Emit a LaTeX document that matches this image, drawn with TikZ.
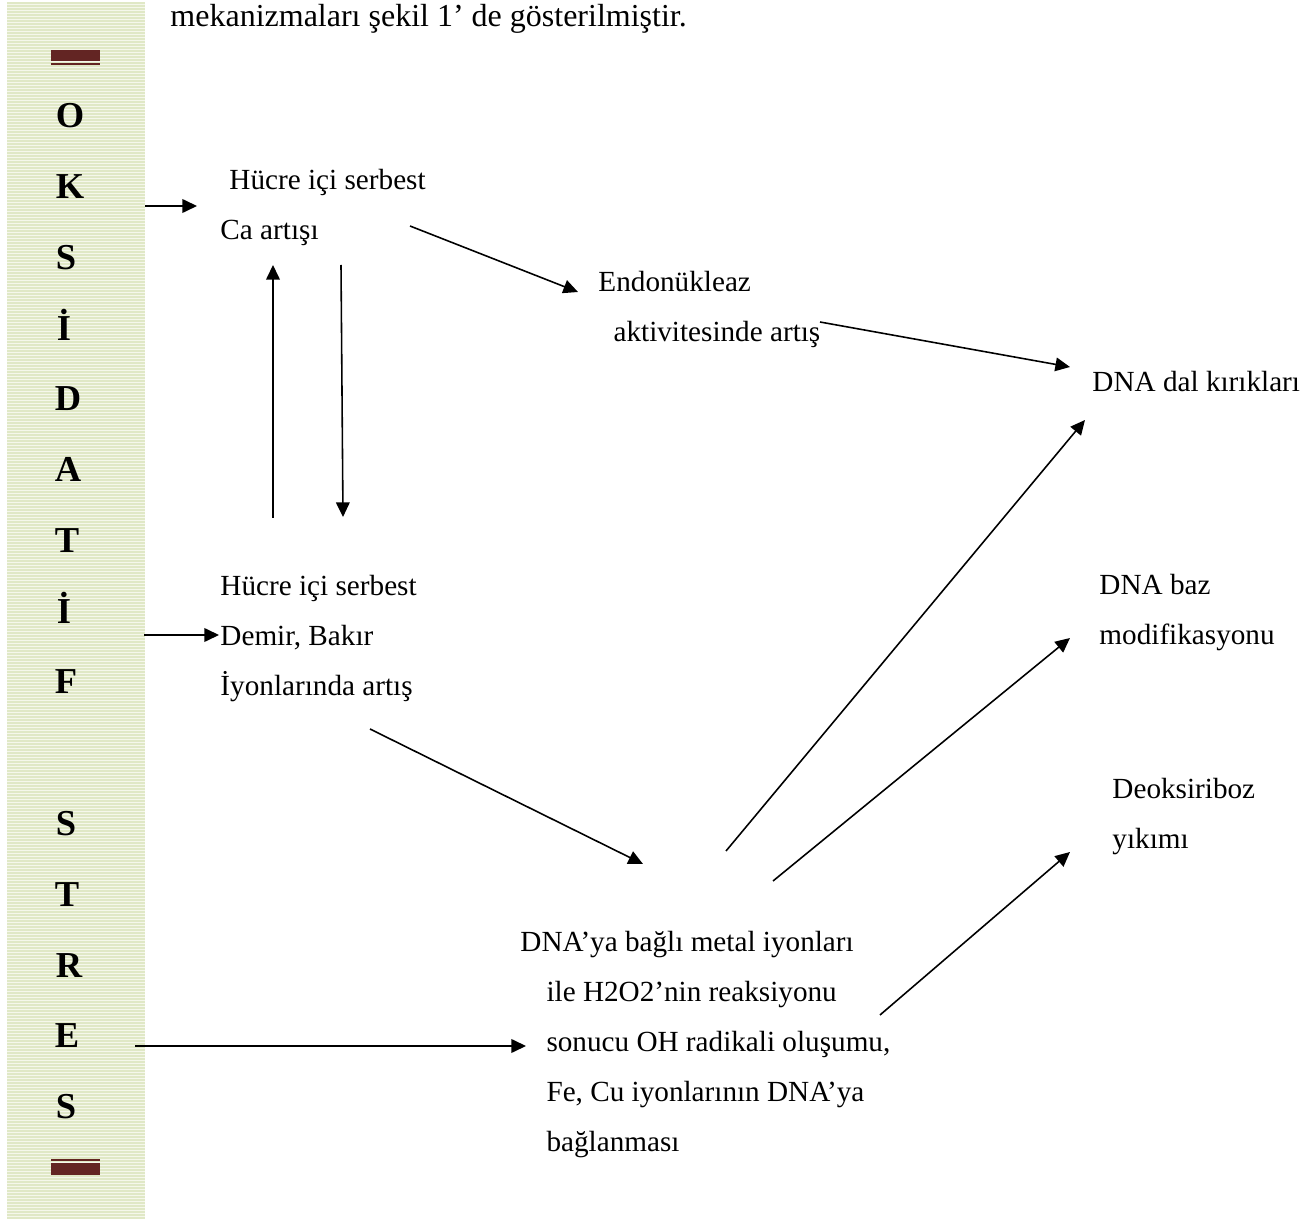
\documentclass[tikz,border=0pt]{standalone}
\usepackage{fontspec}
\setmainfont{Liberation Serif}
\usetikzlibrary{arrows.meta}
\definecolor{barred}{RGB}{99,37,35}
\definecolor{barbg}{RGB}{245,247,235}
\definecolor{barline}{RGB}{224,232,198}
\begin{document}
\begin{tikzpicture}[x=0.411pt,y=-0.411pt,
    txt/.style={anchor=base west,inner sep=0pt,align=left,
      font=\fontsize{12}{20.55}\selectfont},
    letter/.style={anchor=base,inner sep=0pt,
      font=\fontsize{15}{18}\selectfont\bfseries},
    arr/.style={-{Triangle[length=6pt,width=5.6pt]},line width=0.65pt},
  ]
    \useasboundingbox (0,0) rectangle (1304,1219);

    % striped side bar
    \fill[barbg] (7,2) rectangle (145,1219);
    \foreach \y in {3,6,...,1218}
      \draw[barline,line width=0.55pt] (7,\y) -- (145,\y);
    \fill[barred] (51,50) rectangle (100,61);
    \fill[barred] (51,63) rectangle (100,65.5);
    \fill[barred] (51,1159) rectangle (100,1161);
    \fill[barred] (51,1163) rectangle (100,1175);

    % vertical title
    \foreach \i/\x/\l in {0/70/O,1/70/K,2/66/S,3/64/İ,4/68/D,5/68/A,6/67/T,7/64/İ,8/66/F,
        10/66/S,11/67/T,12/69/R,13/67/E,14/66/S}
      \node[letter] (l\i) at (\x,128+70.75*\i) {\l};

    \node[txt,font=\fontsize{13.15}{16}\selectfont] (intro) at (170,27)
      {mekanizmaları şekil 1’ de gösterilmiştir.};

    % boxes of text (anchored at the last line)
    \node[txt] (ca) at (220,240) {\hspace*{3.7pt}Hücre içi serbest\\Ca artışı};
    \node[txt] (endo) at (598,342) {Endonükleaz\\\hspace*{6.2pt}aktivitesinde artış};
    \node[txt] (dnadal) at (1092,392) {DNA dal kırıkları};
    \node[txt] (demir) at (220,696) {Hücre içi serbest\\Demir, Bakır\\İyonlarında artış};
    \node[txt] (baz) at (1099,645) {DNA baz\\modifikasyonu};
    \node[txt] (deoks) at (1112,848) {Deoksiriboz\\yıkımı};
    \node[txt] (metal) at (520,1151) {DNA’ya bağlı metal iyonları\\
      \hspace*{10.7pt}ile H2O2’nin reaksiyonu\\
      \hspace*{10.7pt}sonucu OH radikali oluşumu,\\
      \hspace*{10.7pt}Fe, Cu iyonlarının DNA’ya\\
      \hspace*{10.7pt}bağlanması};

    % arrow ends
    \coordinate (bar-ca) at (145,206);
    \coordinate (ca-in) at (197,206);
    \coordinate (ca-out) at (410,226);
    \coordinate (endo-in) at (578,292);
    \coordinate (endo-out) at (820,322);
    \coordinate (dnadal-in) at (1070,367);
    \coordinate (ca-up) at (273,265);
    \coordinate (demir-up) at (273,518);
    \coordinate (ca-down) at (341,265);
    \coordinate (demir-down) at (343,517);
    \coordinate (bar-demir) at (144,635);
    \coordinate (demir-in) at (219,635);
    \coordinate (demir-out) at (370,729);
    \coordinate (metal-in) at (643,864);
    \coordinate (metal-dal) at (726,851);
    \coordinate (dal-end) at (1085,420);
    \coordinate (metal-baz) at (773,881);
    \coordinate (baz-in) at (1070,638);
    \coordinate (metal-deoks) at (880,1015);
    \coordinate (deoks-in) at (1070,852);
    \coordinate (bar-metal) at (135,1046);
    \coordinate (metal-left) at (526,1046);

    \draw[arr] (bar-ca) -- (ca-in);
    \draw[arr] (ca-out) -- (endo-in);
    \draw[arr] (endo-out) -- (dnadal-in);
    \draw[arr] (demir-up) -- (ca-up);
    \draw[arr] (ca-down) -- (demir-down);
    \draw[arr] (bar-demir) -- (demir-in);
    \draw[arr] (demir-out) -- (metal-in);
    \draw[arr] (metal-dal) -- (dal-end);
    \draw[arr] (metal-baz) -- (baz-in);
    \draw[arr] (metal-deoks) -- (deoks-in);
    \draw[arr] (bar-metal) -- (metal-left);
\end{tikzpicture}
\end{document}
